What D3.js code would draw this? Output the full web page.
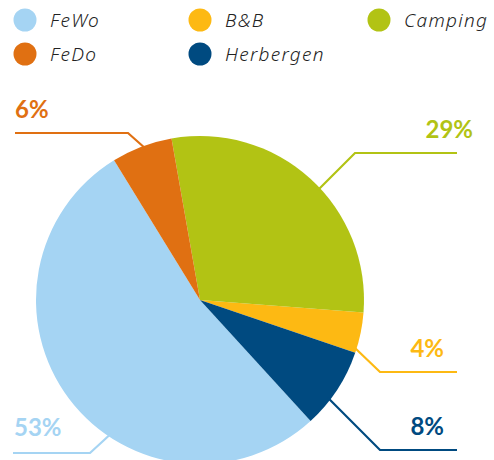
<!DOCTYPE html>
<html><head><meta charset="utf-8">
<script src="https://cdn.jsdelivr.net/npm/d3@7"></script>
<style>html,body{margin:0;padding:0;background:#fff;}</style>
</head><body>
<svg id="chart" width="494" height="460"></svg>
<script>
// Data
const categories = ["FeWo", "B&B", "Camping", "FeDo", "Herbergen"];
const values = [53, 4, 29, 6, 8];
const colors = ["#a5d4f3", "#fdb913", "#b2c314", "#e07012", "#004a80"];
// Order of slices around the pie, clockwise starting near 12 o'clock
const pieOrder = ["Camping", "B&B", "Herbergen", "FeWo", "FeDo"];
const labels = ["53%", "4%", "29%", "6%", "8%"];

const W = 494, H = 460;
const svg = d3.select("#chart");
const cx = 200, cy = 300, R = 164;
const deg = Math.PI / 180;

const data = categories.map((c, i) => ({cat: c, value: values[i], color: colors[i], label: labels[i]}));
const color = d3.scaleOrdinal().domain(categories).range(colors);

const pie = d3.pie()
  .value(d => d.value)
  .sort((a, b) => pieOrder.indexOf(a.cat) - pieOrder.indexOf(b.cat))
  .startAngle(-10 * deg)
  .endAngle(350 * deg);
const arcs = pie(data);
const arc = d3.arc().innerRadius(0).outerRadius(R);

const g = svg.append("g").attr("transform", `translate(${cx},${cy})`);
g.selectAll("path").data(arcs).enter().append("path")
  .attr("d", arc)
  .attr("fill", d => color(d.data.cat));

// Leader line layout (angle where the line meets the pie, elbow, end)
const layout = {
  "FeDo":      {ang: -19.8, ex: 128, ey: 133, endX: 15,  tx: 15,  ty: 118, anchor: "start"},
  "Camping":   {ang: 47,    ex: 355, ey: 153, endX: 457, tx: 473, ty: 138, anchor: "end"},
  "B&B":       {ang: 107,   ex: 380, ey: 372, endX: 457, tx: 444, ty: 357, anchor: "end"},
  "Herbergen": {ang: 127.4, ex: 380, ey: 450, endX: 457, tx: 444, ty: 435, anchor: "end"},
  "FeWo":      {ang: 213.7, ex: 90,  ey: 453, endX: 13,  tx: 14,  ty: 436, anchor: "start"}
};

arcs.forEach(a => {
  const L = layout[a.data.cat];
  const sx = cx + (R - 3) * Math.sin(L.ang * deg);
  const sy = cy - (R - 3) * Math.cos(L.ang * deg);
  svg.append("path")
    .attr("d", d3.line()([[sx, sy], [L.ex, L.ey], [L.endX, L.ey]]))
    .attr("fill", "none")
    .attr("stroke", color(a.data.cat))
    .attr("stroke-width", 2.2);
  svg.append("text")
    .attr("x", L.tx).attr("y", L.ty)
    .attr("text-anchor", L.anchor)
    .attr("font-family", "Lato, 'Open Sans', sans-serif")
    .attr("font-weight", "bold")
    .attr("font-size", 24)
    .attr("fill", color(a.data.cat))
    .text(a.data.label);
});

// Legend
const legendPos = [[25, 20], [200, 20], [379, 20], [25, 54], [200, 54]];
const leg = svg.append("g");
categories.forEach((c, i) => {
  const [x, y] = legendPos[i];
  leg.append("circle").attr("cx", x).attr("cy", y).attr("r", 11.5).attr("fill", color(c));
  leg.append("text")
    .attr("x", x + 25).attr("y", y + 7)
    .attr("font-family", "'Noto Sans', sans-serif")
    .attr("font-style", "italic")
    .attr("font-weight", 300)
    .attr("font-size", 19)
    .attr("letter-spacing", 1.3)
    .attr("fill", "#222")
    .text(c);
});
</script>
</body></html>
